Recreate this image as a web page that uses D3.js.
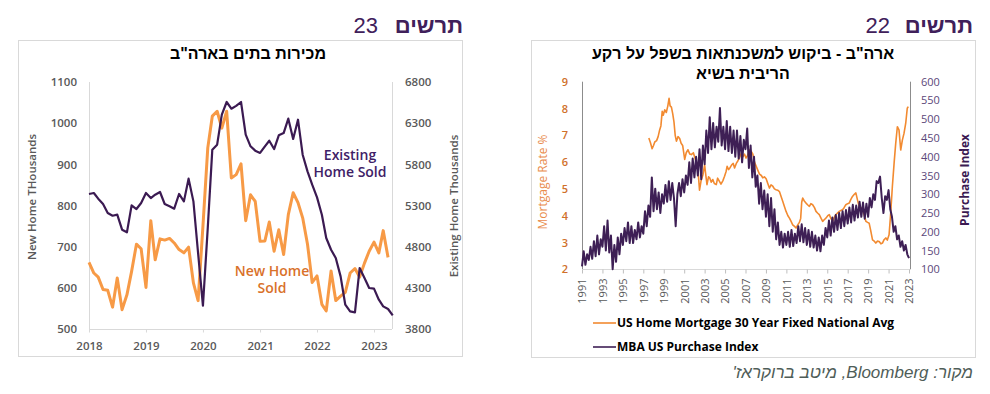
<!DOCTYPE html>
<html>
<head>
<meta charset="utf-8">
<script src="https://cdn.jsdelivr.net/npm/d3@7"></script>
<style>
  body { margin: 0; background: #fff; }
  svg { display: block; }
</style>
</head>
<body>
<svg id="chart" width="990" height="394"></svg>
<script>
"use strict";

// chart 23 - US home sales, monthly from Jan 2018
var salesYears = ["2018", "2019", "2020", "2021", "2022", "2023"];
var newHomeSold = [
    662, 636, 626, 596, 594, 553, 624, 547, 583, 640, 706, 695,
    601, 763, 668, 719, 716, 720, 709, 693, 685, 699, 612, 569,
    750, 940, 1017, 1029, 988, 1029, 867, 875, 901, 763, 826, 810,
    713, 714, 760, 689, 741, 681, 778, 831, 807, 770, 706, 613,
    629, 560, 544, 641, 569, 580, 589, 636, 647, 626, 660, 689,
    711, 685, 739, 674
];
var existingHomeSold = [
    5440, 5452, 5383, 5318, 5209, 5176, 5189, 5006, 4974, 5302, 5257, 5330,
    5452, 5391, 5431, 5464, 5318, 5290, 5261, 5440, 5350, 5626, 5350, 4720,
    4083, 5030, 5978, 6039, 6403, 6557, 6476, 6510, 6557, 6160, 6019, 5966,
    5938, 6019, 6087, 5986, 6152, 6180, 6355, 6108, 6342, 5917, 5715, 5553,
    5399, 5188, 4905, 4763, 4662, 4439, 4095, 4014, 4002, 4540, 4419, 4298,
    4290, 4156, 4075, 4043, 3966
];
var newHomeTicks = [500, 600, 700, 800, 900, 1000, 1100];
var existingTicks = [3800, 4300, 4800, 5300, 5800, 6300, 6800];

// chart 22 - mortgage rate (year, %) and MBA purchase index (every 2 months from 1991)
var mortgageRate = [
    [1997.54, 6.90], [1997.7, 6.72], [1997.86, 6.50], [1998.0, 6.62], [1998.12, 6.75],
    [1998.3, 6.80], [1998.45, 6.95], [1998.6, 7.20], [1998.72, 7.35], [1998.85, 7.90],
    [1998.95, 7.75], [1999.1, 7.95], [1999.25, 7.85], [1999.4, 8.10], [1999.52, 8.38],
    [1999.62, 8.10], [1999.75, 8.05], [1999.88, 7.80], [2000.0, 7.50], [2000.12, 7.00],
    [2000.24, 6.78], [2000.4, 6.95], [2000.56, 6.88], [2000.7, 6.70], [2000.85, 6.62],
    [2001.05, 6.10], [2001.2, 6.35], [2001.37, 6.46], [2001.55, 6.30], [2001.7, 6.28],
    [2001.9, 6.35], [2002.05, 6.15], [2002.2, 6.00], [2002.35, 5.70], [2002.5, 4.95],
    [2002.65, 5.30], [2002.84, 5.53], [2003.0, 5.90], [2003.12, 5.50], [2003.23, 5.16],
    [2003.38, 5.45], [2003.5, 5.41], [2003.65, 5.25], [2003.8, 5.35], [2003.95, 5.20],
    [2004.14, 5.16], [2004.27, 5.40], [2004.45, 5.28], [2004.6, 5.18], [2004.78, 5.30],
    [2004.95, 5.47], [2005.1, 5.65], [2005.2, 5.84], [2005.35, 5.72], [2005.5, 5.80],
    [2005.65, 5.90], [2005.8, 5.95], [2005.93, 5.78], [2006.1, 5.95], [2006.26, 6.05],
    [2006.45, 6.20], [2006.6, 6.34], [2006.74, 6.20], [2006.9, 6.30], [2007.05, 6.15],
    [2007.2, 6.25], [2007.4, 6.45], [2007.56, 6.40], [2007.72, 6.30], [2007.88, 6.00],
    [2008.04, 5.85], [2008.2, 5.70], [2008.37, 5.55], [2008.55, 5.50], [2008.69, 5.41],
    [2008.85, 5.45], [2009.02, 5.38], [2009.18, 5.20], [2009.34, 5.03], [2009.5, 5.15],
    [2009.67, 5.10], [2009.83, 5.00], [2009.99, 4.97], [2010.15, 4.95], [2010.32, 4.90],
    [2010.5, 4.70], [2010.65, 4.53], [2010.8, 4.35], [2010.97, 4.16], [2011.15, 4.00],
    [2011.3, 3.91], [2011.45, 3.80], [2011.62, 3.66], [2011.8, 3.60], [2011.95, 3.54],
    [2012.1, 3.65], [2012.27, 3.75], [2012.4, 3.90], [2012.5, 4.50], [2012.6, 4.66],
    [2012.75, 4.55], [2012.92, 4.47], [2013.1, 4.40], [2013.25, 4.35], [2013.4, 4.45],
    [2013.57, 4.41], [2013.75, 4.30], [2013.9, 4.16], [2014.05, 4.10], [2014.22, 4.04],
    [2014.4, 3.90], [2014.55, 3.79], [2014.7, 3.85], [2014.87, 3.91], [2015.05, 4.00],
    [2015.2, 4.04], [2015.35, 3.90], [2015.52, 3.79], [2015.7, 3.95], [2015.85, 4.04],
    [2016.0, 4.10], [2016.17, 4.16], [2016.35, 4.20], [2016.5, 4.22], [2016.65, 4.30],
    [2016.82, 4.41], [2017.0, 4.45], [2017.15, 4.47], [2017.3, 4.60], [2017.47, 4.72],
    [2017.65, 4.80], [2017.8, 4.85], [2017.95, 4.60], [2018.12, 4.35], [2018.3, 4.30],
    [2018.45, 4.22], [2018.6, 4.05], [2018.78, 3.79], [2018.95, 3.75], [2019.1, 3.72],
    [2019.25, 3.45], [2019.43, 3.10], [2019.6, 3.05], [2019.75, 2.98], [2019.92, 3.05],
    [2020.08, 3.04], [2020.25, 2.95], [2020.4, 2.98], [2020.55, 3.10], [2020.73, 3.17],
    [2020.88, 3.09], [2021.05, 3.29], [2021.21, 4.10], [2021.37, 5.08], [2021.55, 6.00],
    [2021.7, 6.70], [2021.86, 7.32], [2022.02, 7.20], [2022.19, 6.45], [2022.35, 6.82],
    [2022.51, 7.07], [2022.68, 7.45], [2022.83, 8.01], [2022.93, 8.07]
];
var purchaseIndex = [
    108, 148, 112, 140, 125, 160,   // 1991
    128, 175, 135, 190, 140, 180,   // 1992
    160, 215, 150, 230, 145, 190,   // 1993
    100, 165, 120, 185, 140, 195,   // 1994
    165, 210, 175, 225, 170, 215,   // 1995
    170, 205, 180, 225, 185, 215,   // 1996
    195, 255, 215, 270, 240, 345,   // 1997
    255, 315, 260, 305, 250, 300,   // 1998
    275, 325, 280, 335, 285, 330,   // 1999
    290, 215, 300, 330, 295, 340,   // 2000
    305, 350, 325, 385, 330, 395,   // 2001
    345, 400, 350, 420, 340, 430,   // 2002
    380, 470, 410, 505, 420, 490,   // 2003
    425, 480, 440, 530, 430, 480,   // 2004
    420, 495, 415, 480, 410, 470,   // 2005
    400, 470, 395, 455, 385, 445,   // 2006
    420, 475, 370, 430, 345, 400,   // 2007
    320, 350, 275, 330, 260, 310,   // 2008
    240, 300, 215, 290, 200, 260,   // 2009
    180, 225, 165, 200, 158, 195,   // 2010
    165, 200, 160, 205, 162, 195,   // 2011
    170, 215, 175, 220, 172, 210,   // 2012
    165, 205, 160, 200, 158, 190,   // 2013
    150, 185, 148, 190, 165, 210,   // 2014
    185, 230, 190, 238, 200, 245,   // 2015
    205, 250, 210, 255, 215, 258,   // 2016
    222, 265, 225, 272, 230, 270,   // 2017
    238, 280, 240, 278, 235, 275,   // 2018
    240, 290, 265, 300, 285, 335,   // 2019
    330, 347, 290, 250, 295, 285,   // 2020
    311, 260, 240, 200, 215, 180,   // 2021
    190, 160, 175, 150, 165, 140,   // 2022
    130
];
var mortgageYearTicks = [1991, 1993, 1995, 1997, 1999, 2001, 2003, 2005, 2007,
    2009, 2011, 2013, 2015, 2017, 2019, 2021, 2023];
var rateTicks = [2, 3, 4, 5, 6, 7, 8, 9];
var purchaseTicks = [100, 150, 200, 250, 300, 350, 400, 450, 500, 550, 600];

var FONT = "'Open Sans', 'DejaVu Sans', sans-serif";
var FONT_HE = "'Liberation Sans', Arial, 'DejaVu Sans', sans-serif";
var HEAD_PURPLE = "#40205a";
var GREY = "#595959";

var svg = d3.select("#chart");

function drawBox(x, y, w, h) {
    svg.append("rect")
        .attr("x", x + 0.5)
        .attr("y", y + 0.5)
        .attr("width", w)
        .attr("height", h)
        .attr("fill", "#fff")
        .attr("stroke", "#d9d9d9");
};

function drawHeader(right, numRight, num) {
    svg.append("text")
        .attr("x", right).attr("y", 33)
        .attr("text-anchor", "end")
        .attr("font-family", FONT_HE).attr("font-size", 22).attr("font-weight", "bold")
        .attr("fill", HEAD_PURPLE)
        .text("תרשים");
    svg.append("text")
        .attr("x", numRight).attr("y", 33)
        .attr("text-anchor", "end")
        .attr("font-family", FONT_HE).attr("font-size", 22)
        .attr("fill", HEAD_PURPLE)
        .text(num);
};

function styleAxis(g, color, size, weight) {
    g.select(".domain").remove();
    g.selectAll("text")
        .attr("font-family", FONT)
        .attr("font-size", size)
        .attr("font-weight", weight)
        .attr("fill", color);
};

function vline(x, y0, y1, color) {
    svg.append("line")
        .attr("x1", x).attr("x2", x).attr("y1", y0).attr("y2", y1)
        .attr("stroke", color);
};

function hline(y, x0, x1, color) {
    svg.append("line")
        .attr("x1", x0).attr("x2", x1).attr("y1", y).attr("y2", y)
        .attr("stroke", color);
};

function rotatedLabel(x, y, text, color, size, weight) {
    svg.append("text")
        .attr("transform", "translate(" + x + "," + y + ") rotate(-90)")
        .attr("text-anchor", "middle")
        .attr("dy", "0.35em")
        .attr("font-family", FONT).attr("font-size", size).attr("font-weight", weight)
        .attr("fill", color)
        .text(text);
};

// ---------- left panel: chart 23 ----------
drawBox(18, 40, 444, 316);
drawHeader(463, 378, "23");

svg.append("text")
    .attr("x", 248).attr("y", 59)
    .attr("text-anchor", "middle")
    .attr("font-family", FONT_HE).attr("font-size", 16).attr("font-weight", "bold")
    .attr("fill", "#000")
    .text("מכירות בתים בארה\"ב");

var salesStart = new Date(2018, 0, 1);
var salesMonths = d3.timeMonth.range(salesStart, new Date(2023, 5, 1));
var salesX = d3.scaleTime()
    .domain([salesStart, new Date(2023, 0, 1)])
    .range([89, 374]);
var newY = d3.scaleLinear().domain([500, 1100]).range([329, 82]);
var existY = d3.scaleLinear().domain([3800, 6800]).range([329, 82]);

vline(89.5, 82, 329, "#d9d9d9");
vline(392.5, 82, 329, "#d9d9d9");
hline(329.5, 89, 392, "#d9d9d9");

svg.append("g")
    .attr("transform", "translate(89,0)")
    .call(d3.axisLeft(newY).tickValues(newHomeTicks).tickFormat(d3.format("d"))
        .tickSize(0).tickPadding(12))
    .call(styleAxis, GREY, 11.5, 600);

svg.append("g")
    .attr("transform", "translate(392,0)")
    .call(d3.axisRight(existY).tickValues(existingTicks).tickFormat(d3.format("d"))
        .tickSize(0).tickPadding(13))
    .call(styleAxis, GREY, 11.5, 600);

var salesXAxis = svg.append("g")
    .attr("transform", "translate(0,329.5)")
    .call(d3.axisBottom(salesX)
        .tickValues(salesYears.map(function(y) { return new Date(+y, 0, 1); }))
        .tickFormat(d3.timeFormat("%Y"))
        .tickSize(3).tickPadding(9))
    .call(styleAxis, GREY, 11.5, 600);
salesXAxis.selectAll("line").attr("stroke", "#d9d9d9");

rotatedLabel(32, 197, "New Home  THousands", GREY, 11.5, 600);
rotatedLabel(454, 206, "Existing Home Thousands", GREY, 11.5, 600);

var newLine = d3.line()
    .x(function(d, i) { return salesX(salesMonths[i]); })
    .y(function(d) { return newY(d); });
var existLine = d3.line()
    .x(function(d, i) { return salesX(salesMonths[i]); })
    .y(function(d) { return existY(d); });

svg.append("path")
    .datum(newHomeSold)
    .attr("d", newLine)
    .attr("fill", "none")
    .attr("stroke", "#f79a46")
    .attr("stroke-width", 3)
    .attr("stroke-linejoin", "round");

svg.append("path")
    .datum(existingHomeSold)
    .attr("d", existLine)
    .attr("fill", "none")
    .attr("stroke", "#3b1a52")
    .attr("stroke-width", 2.2)
    .attr("stroke-linejoin", "round");

var labelsSales = [
    { lines: ["Existing", "Home Sold"], x: 350, y: 155, color: "#3e2066" },
    { lines: ["New Home", "Sold"], x: 272, y: 271, color: "#d9712a" }
];
labelsSales.forEach(function(lab) {
    lab.lines.forEach(function(t, k) {
        svg.append("text")
            .attr("x", lab.x).attr("y", lab.y + k * 17.5)
            .attr("dy", "0.35em")
            .attr("text-anchor", "middle")
            .attr("font-family", FONT).attr("font-size", 14).attr("font-weight", 600)
            .attr("fill", lab.color)
            .text(t);
    });
});

// ---------- right panel: chart 22 ----------
drawBox(531, 40, 444, 317);
drawHeader(973, 890, "22");

var titleLines = ["ארה\"ב - ביקוש למשכנתאות בשפל על רקע", "הריבית בשיא"];
titleLines.forEach(function(t, k) {
    svg.append("text")
        .attr("x", 743).attr("y", 59 + k * 20)
        .attr("text-anchor", "middle")
        .attr("font-family", FONT_HE).attr("font-size", 16).attr("font-weight", "bold")
        .attr("fill", "#000")
        .text(t);
});

var mortX = d3.scaleLinear().domain([1991, 2023]).range([582, 909]);
var rateY = d3.scaleLinear().domain([2, 9]).range([269.3, 81.7]);
var idxY = d3.scaleLinear().domain([100, 600]).range([269.3, 81.7]);

vline(582.5, 81.7, 269.3, "#8c8c8c");
vline(910.5, 81.7, 269.3, "#8c8c8c");
hline(269.5, 582, 910, "#d9d9d9");

svg.append("g")
    .attr("transform", "translate(582,0)")
    .call(d3.axisLeft(rateY).tickValues(rateTicks).tickFormat(d3.format("d"))
        .tickSize(0).tickPadding(14))
    .call(styleAxis, "#d0702a", 11, 600);

svg.append("g")
    .attr("transform", "translate(910,0)")
    .call(d3.axisRight(idxY).tickValues(purchaseTicks).tickFormat(d3.format("d"))
        .tickSize(0).tickPadding(11))
    .call(styleAxis, "#5b4779", 11, 400);

var mortXAxis = svg.append("g")
    .attr("transform", "translate(0,269.5)")
    .call(d3.axisBottom(mortX).tickValues(mortgageYearTicks).tickFormat(d3.format("d")).tickSize(4))
    .call(styleAxis, GREY, 11, 400);
mortXAxis.selectAll("line").attr("stroke", "#bfbfbf");
mortXAxis.selectAll("text")
    .attr("transform", "rotate(-90)")
    .attr("text-anchor", "end")
    .attr("x", -9)
    .attr("y", 0)
    .attr("dy", "0.35em");

rotatedLabel(543, 182, "Mortgage Rate %", "#e98b4c", 12, 400);
rotatedLabel(965, 180, "Purchase Index", "#3b1a52", 12, 700);

var rateLine = d3.line()
    .x(function(d) { return mortX(d[0]); })
    .y(function(d) { return rateY(d[1]); });
var idxLine = d3.line()
    .x(function(d, i) { return mortX(1991 + i / 6); })
    .y(function(d) { return idxY(d); });

svg.append("path")
    .datum(mortgageRate)
    .attr("d", rateLine)
    .attr("fill", "none")
    .attr("stroke", "#f28a30")
    .attr("stroke-width", 1.6)
    .attr("stroke-linejoin", "round");

svg.append("path")
    .datum(purchaseIndex)
    .attr("d", idxLine)
    .attr("fill", "none")
    .attr("stroke", "#3e1f55")
    .attr("stroke-width", 2)
    .attr("stroke-linejoin", "round");

var legendItems = [
    { label: "US Home Mortgage 30 Year Fixed National Avg", color: "#f28a30", y: 323 },
    { label: "MBA US Purchase Index", color: "#3e1f55", y: 347 }
];
legendItems.forEach(function(item) {
    svg.append("line")
        .attr("x1", 593).attr("x2", 616)
        .attr("y1", item.y).attr("y2", item.y)
        .attr("stroke", item.color)
        .attr("stroke-width", 1.6);
    svg.append("text")
        .attr("x", 617).attr("y", item.y)
        .attr("dy", "0.35em")
        .attr("font-family", FONT).attr("font-size", 12).attr("font-weight", 700)
        .attr("fill", "#000")
        .text(item.label);
});

svg.append("text")
    .attr("x", 973).attr("y", 378)
    .attr("direction", "rtl")
    .attr("text-anchor", "start")
    .attr("font-family", FONT_HE).attr("font-size", 17).attr("font-style", "italic")
    .attr("fill", "#4f5d58")
    .text("מקור: Bloomberg, מיטב ברוקראז'");
</script>
</body>
</html>
